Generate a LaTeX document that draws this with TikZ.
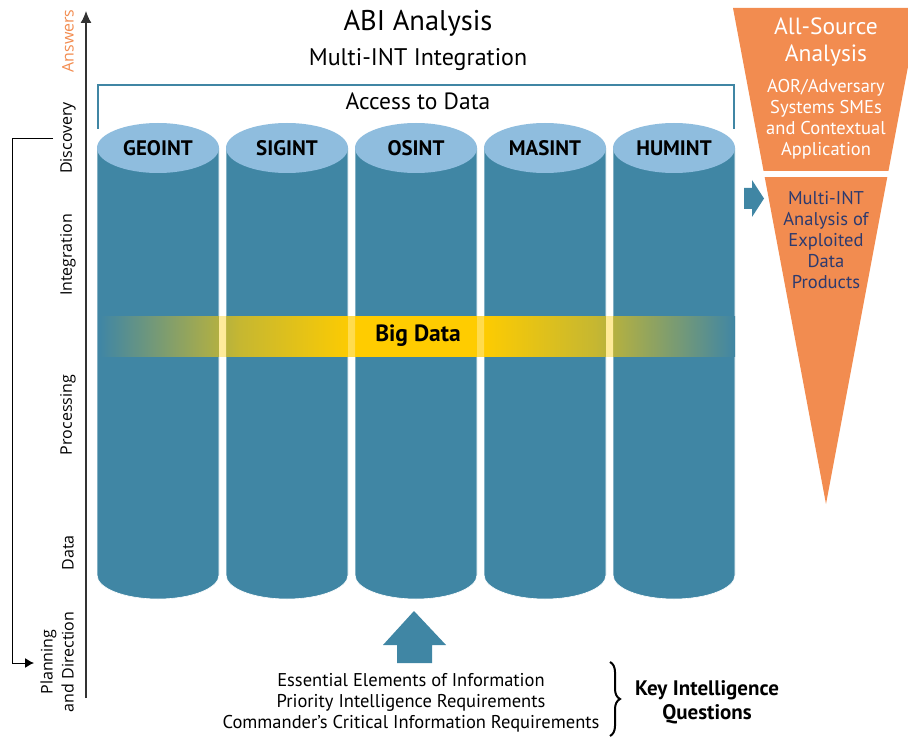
\documentclass[tikz,border=0pt]{standalone}
\usepackage{fontspec}
\setmainfont{PT Sans}
\newfontfamily\axisfont{Open Sans}
\usetikzlibrary{arrows.meta}
\usetikzlibrary{decorations.pathreplacing}

\definecolor{intblue}{RGB}{64,134,164}
\definecolor{inttop}{RGB}{143,189,222}
\definecolor{srcorange}{RGB}{242,140,80}
\definecolor{bigyellow}{RGB}{255,204,0}
\definecolor{prodnavy}{RGB}{45,58,110}

% yellow band, over the cylinders and over the gaps between them
% (only 25bp..75bp ends up inside the filled path)
\pgfdeclarehorizontalshading{bandshade}{100bp}{color(0bp)=(intblue); color(25bp)=(intblue); color(36bp)=(bigyellow!70!intblue); color(45bp)=(bigyellow); color(55bp)=(bigyellow); color(64bp)=(bigyellow!70!intblue); color(75bp)=(intblue); color(100bp)=(intblue)}
\pgfdeclarehorizontalshading{gapshade}{100bp}{color(0bp)=(white); color(25bp)=(white); color(36bp)=(bigyellow!45!white); color(45bp)=(bigyellow!70!white); color(55bp)=(bigyellow!70!white); color(64bp)=(bigyellow!45!white); color(75bp)=(white); color(100bp)=(white)}

\begin{document}
\begin{tikzpicture}[x=1pt, y=-1pt,
		stagelabel/.style={rotate=90, font=\axisfont\fontsize{16}{21}\selectfont},
		intlabel/.style={font=\bfseries\fontsize{21}{25}\selectfont},
		funneltext/.style={align=center, text=white, font=\fontsize{18.5}{21}\selectfont}]
			\useasboundingbox (0,0) rectangle (908,738);

			% titles
			\node[font=\fontsize{28.5}{32}\selectfont] (abi) at (418,23) {ABI Analysis};
			\node[font=\fontsize{24}{28}\selectfont] (multi) at (418,60) {Multi-INT Integration};

			% bracket over the sources
			\draw[intblue, line width=2.5pt] (98,129) |- (734,85) -- (734,129);
			\node[font=\fontsize{23.5}{27}\selectfont] (access) at (418,101) {Access to Data};

			% the cylinders
			\foreach \src [count=\i from 0] in {GEOINT,SIGINT,OSINT,MASINT,HUMINT}{
				\pgfmathsetmacro{\cx}{158+129*\i}
				\fill[intblue, draw=white, line width=0.6pt] (\cx-61,148) -- (\cx-61,575) arc[start angle=180, end angle=360, x radius=61pt, y radius=24pt] -- (\cx+61,148) -- cycle;
				\fill[inttop] (\cx,148) ellipse[x radius=61pt, y radius=25pt];
			}

			% big data band
			\shade[shading=bandshade] (100,316) rectangle (735,356);
			\begin{scope}
				\clip (219,300) rectangle (226,370) (348,300) rectangle (355,370)
					(477,300) rectangle (484,370) (606,300) rectangle (613,370);
				\shade[shading=gapshade] (100,316) rectangle (735,356);
			\end{scope}

			\foreach \src [count=\i from 0] in {GEOINT,SIGINT,OSINT,MASINT,HUMINT}
				\node[intlabel] (\src) at (158+129*\i,148) {\src};
			\node[font=\bfseries\fontsize{23.5}{27}\selectfont] (bigdata) at (418,336) {Big Data};

			% stages axis
			\coordinate (axisfoot) at (86,698);
			\coordinate (axistop) at (86,11);
			\draw[-{Latex[length=12pt,width=11pt]}, line width=1.3pt, black!80] (axisfoot) -- (axistop);

			\node[stagelabel, text=srcorange] (answers) at (68,41) {Answers};
			\node[stagelabel] (discovery) at (68,138) {Discovery};
			\node[stagelabel] (integration) at (68,255) {Integration};
			\node[stagelabel] (processing) at (68,415) {Processing};
			\node[stagelabel] (data) at (68,553) {Data};
			\node[stagelabel, align=center] (planning) at (57,662) {Planning\\and Direction};

			\coordinate (loopstart) at (53,139);
			\coordinate (loopend) at (34,663);
			\draw[-{Latex[length=9pt,width=10pt]}, line width=1pt] (loopstart) -| (12,663) -- (loopend);

			% all-source funnel
			\begin{scope}
				\clip (0,0) rectangle (908,738);
				\fill[srcorange] (733,8) -- (919,8) -- (826,504) -- cycle;
			\end{scope}
			\fill[white] (750,171) rectangle (908,177);
			\fill[intblue] (744,188) -- (752,188) -- (752,180) -- (764,198.5) -- (752,217) -- (752,209) -- (744,209) -- cycle;

			\node[funneltext, font=\fontsize{23.5}{27}\selectfont] (allsource) at (826,42) {All-Source\\Analysis};
			\node[funneltext] (aor) at (826,119) {AOR/Adversary\\Systems SMEs\\and Contextual\\Application};
			\node[funneltext, text=prodnavy] (products) at (826,240) {Multi-INT\\Analysis of\\Exploited\\Data\\Products};

			% requirements feeding up
			\fill[intblue] (397,663) -- (397,645) -- (383,645) -- (414,611) -- (446,645) -- (432,645) -- (432,663) -- cycle;
			\node[align=center, font=\fontsize{18.5}{21}\selectfont] (reqs) at (411,703) {Essential Elements of Information\\Priority Intelligence Requirements\\Commander’s Critical Information Requirements};

			\coordinate (bracetop) at (610,662);
			\coordinate (bracefoot) at (610,736);
			\draw[decorate, decoration={brace, amplitude=10pt}, line width=2pt] (bracetop) -- (bracefoot);
			\node[align=center, font=\bfseries\fontsize{21}{24}\selectfont] (kiq) at (707,702) {Key Intelligence\\Questions};
		\end{tikzpicture}
\end{document}
